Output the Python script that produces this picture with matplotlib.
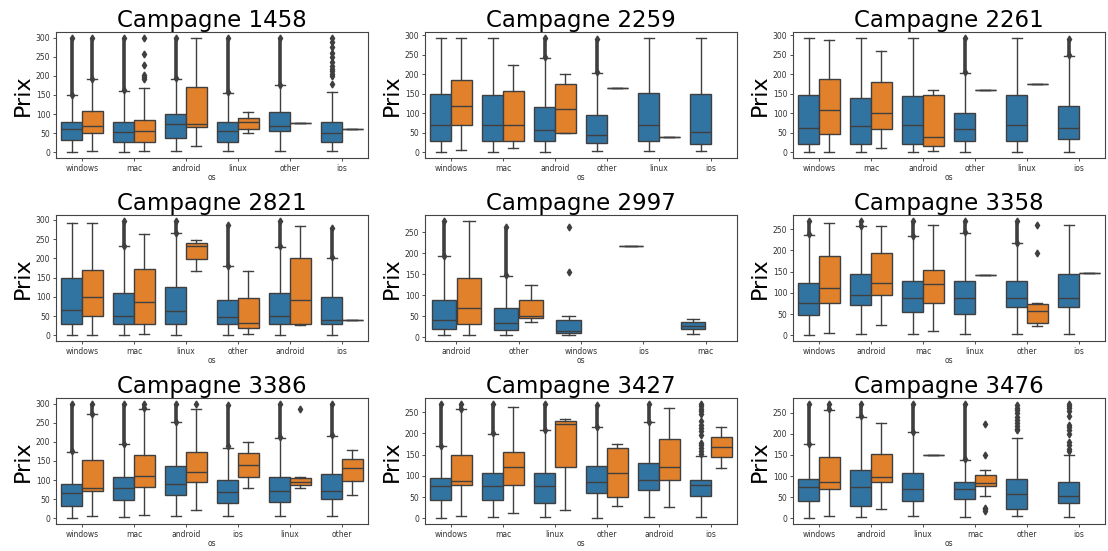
import matplotlib
matplotlib.use("Agg")
import matplotlib.pyplot as plt

# box stats per os: (whislo, q1, med, q3, whishi); None = pas de donnees
# fliers: tuple (lo, hi) = colonne dense, list = points isoles, None = rien

os_1458 = ["windows", "mac", "android", "linux", "other", "ios"]
b_1458 = [(0, 31, 60, 80, 150), (1, 26, 52, 80, 161), (3, 38, 74, 99, 193),
          (4, 27, 57, 79, 156), (4, 56, 70, 105, 175), (4, 26, 50, 80, 157)]
o_1458 = [(4, 51, 70, 107, 191), (4, 27, 56, 84, 168), (17, 67, 75, 172, 299),
          (50, 62, 78, 91, 105), (76, 76, 76, 76, 76), (62, 62, 62, 62, 62)]
bf_1458 = [(151, 300), (162, 300), (194, 300), (157, 300), (176, 300),
           [178, 199, 205, 212, 218, 225, 236, 249, 259, 276, 289, 299]]
of_1458 = [(192, 300), [191, 197, 203, 228, 258, 299], None, None, None, None]

os_2259 = ["windows", "mac", "android", "other", "linux", "ios"]
b_2259 = [(0, 29, 70, 150, 294), (1, 29, 70, 147, 294), (1, 29, 57, 115, 241),
          (4, 23, 45, 95, 204), (2, 29, 71, 151, 294), (3, 22, 53, 149, 294)]
o_2259 = [(5, 70, 120, 185, 294), (11, 28, 70, 158, 224), (50, 50, 112, 176, 201),
          (166, 166, 166, 166, 166), (40, 40, 40, 40, 40), None]
bf_2259 = [None, None, (245, 294), (206, 290), None, None]
of_2259 = [None] * 6

os_2261 = ["windows", "mac", "android", "other", "linux", "ios"]
b_2261 = [(0, 21, 63, 148, 294), (0, 21, 67, 139, 294), (0, 21, 70, 145, 294),
          (0, 29, 60, 100, 204), (0, 28, 70, 147, 294), (0, 34, 62, 118, 248)]
o_2261 = [(1, 47, 109, 189, 287), (12, 60, 101, 181, 260), (3, 15, 40, 148, 161),
          (161, 161, 161, 161, 161), (175, 175, 175, 175, 175), None]
bf_2261 = [None, None, None, (206, 294), None, (250, 290)]
of_2261 = [None] * 6

os_2821 = ["windows", "mac", "linux", "other", "android", "ios"]
b_2821 = [(0, 30, 67, 148, 292), (1, 30, 50, 111, 232), (1, 30, 63, 125, 265),
          (1, 30, 48, 92, 179), (1, 30, 49, 111, 230), (1, 30, 41, 100, 202)]
o_2821 = [(1, 50, 99, 171, 292), (4, 30, 86, 173, 264), (166, 198, 233, 241, 249),
          (4, 18, 31, 97, 166), (28, 29, 92, 200, 284), (41, 41, 41, 41, 41)]
bf_2821 = [None, (233, 298), (266, 298), (180, 288), (231, 298), (204, 278)]
of_2821 = [None] * 6

os_2997 = ["android", "other", "windows", "ios", "mac"]
b_2997 = [(5, 19, 42, 90, 194), (6, 17, 34, 70, 147), (5, 11, 16, 41, 52),
          (218, 218, 218, 218, 218), (9, 20, 28, 36, 44)]
o_2997 = [(6, 31, 70, 141, 277), (37, 45, 52, 88, 124), None, None, None]
bf_2997 = [(195, 278), (148, 263), [155, 262], None, None]
of_2997 = [None] * 5

os_3358 = ["windows", "android", "mac", "linux", "other", "ios"]
b_3358 = [(0, 48, 77, 123, 237), (2, 71, 96, 145, 257), (2, 55, 89, 127, 233),
          (2, 49, 89, 127, 242), (2, 67, 89, 127, 217), (4, 67, 89, 145, 260)]
o_3358 = [(5, 77, 111, 186, 265), (25, 96, 124, 193, 258), (9, 75, 120, 154, 261),
          (142, 142, 142, 142, 142), (23, 30, 57, 74, 77), (146, 146, 146, 146, 146)]
bf_3358 = [(238, 270), (258, 270), (234, 270), (243, 270), (218, 270), None]
of_3358 = [None, None, None, None, [193, 261], None]

os_3386 = ["windows", "mac", "android", "ios", "linux", "other"]
b_3386 = [(0, 33, 67, 90, 174), (3, 49, 78, 107, 194), (5, 61, 90, 137, 251),
          (5, 41, 68, 99, 184), (5, 43, 71, 109, 211), (5, 50, 72, 117, 216)]
o_3386 = [(6, 71, 80, 152, 272), (9, 81, 110, 165, 287), (21, 94, 120, 173, 285),
          (78, 108, 140, 170, 201), (78, 87, 96, 105, 107), (62, 97, 132, 154, 178)]
bf_3386 = [(175, 300), (195, 300), (252, 300), (190, 296), (212, 300), (217, 300)]
of_3386 = [(273, 300), (288, 300), [299], None, [286], None]

os_3427 = ["windows", "mac", "linux", "other", "android", "ios"]
b_3427 = [(0, 43, 76, 95, 170), (2, 43, 76, 106, 199), (2, 37, 75, 106, 208),
          (0, 59, 85, 123, 214), (2, 66, 90, 130, 226), (2, 53, 78, 91, 147)]
o_3427 = [(5, 78, 88, 149, 257), (12, 79, 120, 156, 262), (20, 121, 222, 229, 235),
          (29, 49, 107, 165, 174), (27, 90, 120, 186, 260), (119, 144, 168, 191, 216)]
bf_3427 = [(171, 270), (200, 270), (209, 270), (215, 268), (227, 270),
           [152, 158, 165, 172, 178, 196, 205, 212, 220, 229, 245, 252, 258, 265, 270]]
of_3427 = [(258, 270), None, None, None, None, None]

os_3476 = ["windows", "android", "linux", "mac", "other", "ios"]
b_3476 = [(0, 40, 73, 94, 175), (2, 30, 74, 115, 240), (5, 41, 69, 106, 204),
          (2, 46, 69, 85, 139), (5, 22, 58, 92, 190), (2, 37, 52, 85, 150)]
o_3476 = [(5, 69, 85, 146, 257), (23, 86, 97, 152, 226), (149, 149, 149, 149, 149),
          (53, 76, 84, 103, 114), None, None]
bf_3476 = [(176, 270), (241, 270), (205, 270), (140, 270),
           [208, 212, 218, 225, 232, 240, 248, 255, 262, 268],
           [160, 165, 173, 180, 199, 210, 215, 220, 242, 253, 260, 266, 271]]
of_3476 = [(258, 270), None, None, [17, 21, 24, 149, 224], None, None]

campagnes = ["1458", "2259", "2261", "2821", "2997", "3358", "3386", "3427", "3476"]
panels = [
    (os_1458, b_1458, o_1458, bf_1458, of_1458),
    (os_2259, b_2259, o_2259, bf_2259, of_2259),
    (os_2261, b_2261, o_2261, bf_2261, of_2261),
    (os_2821, b_2821, o_2821, bf_2821, of_2821),
    (os_2997, b_2997, o_2997, bf_2997, of_2997),
    (os_3358, b_3358, o_3358, bf_3358, of_3358),
    (os_3386, b_3386, o_3386, bf_3386, of_3386),
    (os_3427, b_3427, o_3427, bf_3427, of_3427),
    (os_3476, b_3476, o_3476, bf_3476, of_3476),
]

couleurs = ["#3274a1", "#e1812c"]
gris = "#3f3f3f"

W, H = 1108, 551
fig = plt.figure(figsize=(W / 100, H / 100), dpi=100)

lefts = [56, 425, 793]
tops = [32, 215, 398]
aw, ah = 312, 126


def dessine_box(ax, stats, fliers, decal, couleur):
    for i, s in enumerate(stats):
        if s is None:
            continue
        pos = i + decal
        d = {"whislo": s[0], "q1": s[1], "med": s[2], "q3": s[3], "whishi": s[4]}
        ax.bxp([d], positions=[pos], widths=0.39, patch_artist=True,
               showfliers=False, manage_ticks=False,
               boxprops=dict(facecolor=couleur, edgecolor=gris, linewidth=1.0),
               medianprops=dict(color=gris, linewidth=1.0),
               whiskerprops=dict(color=gris, linewidth=1.0),
               capprops=dict(color=gris, linewidth=1.0))
    for i, f in enumerate(fliers):
        pos = i + decal
        if f is None:
            continue
        if isinstance(f, tuple):
            # colonne dense de points aberrants
            ax.vlines(pos, f[0], f[1], color=gris, linewidth=2.6, zorder=3)
            ax.plot([pos, pos], list(f), linestyle="none", marker="d",
                    markersize=3.5, color=gris, zorder=3)
        else:
            ax.plot([pos] * len(f), f, linestyle="none", marker="d",
                    markersize=3.5, color=gris, zorder=3)


for k, (noms, bleu, orange, bfl, ofl) in enumerate(panels):
    r, c = divmod(k, 3)
    ax = fig.add_axes([lefts[c] / W, 1 - (tops[r] + ah) / H, aw / W, ah / H])
    dessine_box(ax, bleu, bfl, -0.2, couleurs[0])
    dessine_box(ax, orange, ofl, 0.2, couleurs[1])
    ax.set_xticks(range(len(noms)))
    ax.set_xticklabels(noms)
    ax.set_xlim(-0.5, len(noms) - 0.5)
    ax.autoscale(axis="y")
    ax.margins(y=0.05)
    ax.tick_params(labelsize=5.5, length=2.5, width=0.6, colors="#333333", pad=1.5)
    for sp in ax.spines.values():
        sp.set_linewidth(0.8)
        sp.set_color("#444444")
    ax.set_title("Campagne " + campagnes[k], fontsize=16.5, pad=3)
    ax.set_ylabel("Prix", fontsize=16, labelpad=2)
    ax.set_xlabel("os", fontsize=5.5, labelpad=0.5, color="#333333")

fig.savefig("out.png", dpi=100)
